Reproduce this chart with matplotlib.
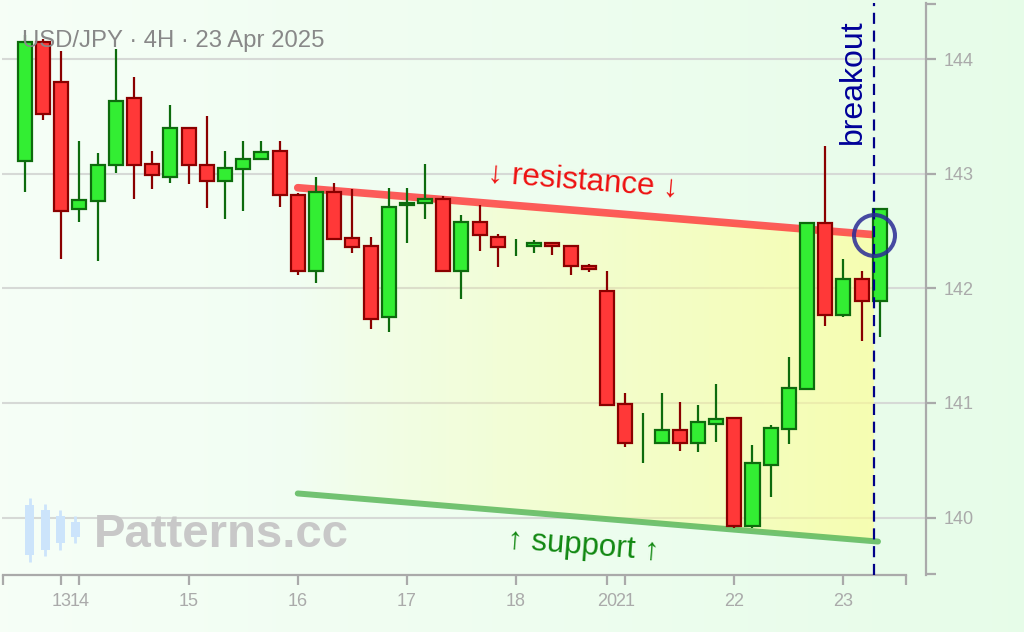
import matplotlib
matplotlib.use('Agg')
import matplotlib.pyplot as plt
import numpy as np
from matplotlib.patches import Polygon, Rectangle

plt.rcParams['font.family'] = ['Liberation Sans', 'DejaVu Sans']

# 4H candles, USD/JPY
opens = [143.11, 144.15, 143.80, 142.69, 142.76, 143.08, 143.66, 143.09, 142.97, 143.40,
         143.08, 142.94, 143.04, 143.13, 143.20, 142.82, 142.15, 142.84, 142.44, 142.37,
         141.75, 142.73, 142.75, 142.78, 142.15, 142.58, 142.45, 142.35, 142.37, 142.40,
         142.37, 142.20, 141.98, 140.99, 140.70, 140.65, 140.76, 140.65, 140.82, 140.87,
         139.93, 140.46, 140.77, 141.12, 142.57, 141.77, 142.08, 141.89]
highs = [144.21, 144.18, 144.07, 143.29, 143.18, 144.09, 143.85, 143.20, 143.60, 143.40,
         143.51, 143.20, 143.29, 143.29, 143.29, 142.83, 142.97, 142.92, 142.87, 142.45,
         142.88, 142.88, 143.09, 142.81, 142.64, 142.73, 142.48, 142.43, 142.42, 142.41,
         142.37, 142.21, 142.15, 141.09, 140.91, 141.09, 141.01, 140.98, 141.17, 140.88,
         140.63, 140.81, 141.40, 142.57, 143.24, 142.26, 142.15, 142.70]
lows = [142.84, 143.47, 142.26, 142.58, 142.24, 143.01, 142.78, 142.87, 142.92, 142.91,
        142.70, 142.61, 142.68, 143.12, 142.71, 142.12, 142.05, 142.42, 142.31, 141.65,
        141.62, 142.40, 142.61, 142.15, 141.91, 142.33, 142.19, 142.28, 142.31, 142.29,
        142.12, 142.14, 140.98, 140.62, 140.48, 140.65, 140.58, 140.57, 140.66, 139.91,
        139.91, 140.18, 140.64, 141.11, 141.67, 141.75, 141.54, 141.58]
closes = [144.15, 143.52, 142.68, 142.77, 143.08, 143.64, 143.08, 142.99, 143.40, 143.08,
          142.94, 143.05, 143.13, 143.19, 142.82, 142.15, 142.84, 142.43, 142.36, 141.73,
          142.71, 142.75, 142.78, 142.15, 142.58, 142.47, 142.36, 142.35, 142.40, 142.37,
          142.20, 142.17, 140.98, 140.65, 140.70, 140.76, 140.65, 140.83, 140.86, 139.93,
          140.48, 140.78, 141.13, 142.57, 141.77, 142.08, 141.89, 142.69]

day_pos = [2, 3, 9, 15, 21, 27, 32, 33, 39, 45]
day_labels = ['13', '14', '15', '16', '17', '18', '20', '21', '22', '23']
price_ticks = [140, 141, 142, 143, 144]

res_x = [15, 46.67]
res_y = [142.88, 142.47]
sup_x = [15, 46.9]
sup_y = [140.21, 139.79]
breakout_x = 46.67
breakout_y = 142.47

W, H = 1024, 632
fig = plt.figure(figsize=(W / 100, H / 100), dpi=100)

# background gradient
bg = fig.add_axes([0, 0, 1, 1], zorder=0)
c1 = np.array([0.965, 0.998, 0.968])
c2 = np.array([0.905, 0.990, 0.912])
t = np.linspace(0, 1, 256)[None, :, None]
bg.imshow(c1 + (c2 - c1) * t, aspect='auto', extent=(0, 1, 0, 1))
bg.set_xlim(0, 1)
bg.set_ylim(0, 1)
bg.axis('off')

gx0, gx1 = 2, 926
gy0, gy1 = 3, 575
ax = fig.add_axes([gx0 / W, 1 - gy1 / H, (gx1 - gx0) / W, (gy1 - gy0) / H], zorder=1)
ax.set_facecolor('none')
dx, x0 = 18.19, 24.9
xlim = ((gx0 - x0) / dx, (gx1 - x0) / dx)
ylim = (139.498, 144.493)

for p in price_ticks:
    ax.axhline(p, color='#d6d9d6', lw=1.5, zorder=0)

# trend zone fill with horizontal gradient
n = 200
xs = np.linspace(res_x[0], res_x[1], n)
top = np.interp(xs, res_x, res_y)
bot = np.interp(xs, sup_x, sup_y)
poly = Polygon(np.column_stack([np.r_[xs, xs[::-1]], np.r_[top, bot[::-1]]]),
               closed=True, facecolor='none', edgecolor='none')
ax.add_patch(poly)
grad = np.zeros((2, 256, 4))
grad[..., 0] = 1.0
grad[..., 1] = 1.0
grad[..., 2] = 0.55
grad[..., 3] = np.linspace(0.0, 0.55, 256) ** 0.85
im = ax.imshow(grad, aspect='auto', extent=(res_x[0], res_x[1], min(sup_y), max(res_y)),
               interpolation='bilinear', zorder=0.5)
im.set_clip_path(poly)
ax.set_xlim(*xlim)
ax.set_ylim(*ylim)

ax.plot(res_x, res_y, color='#ff4040', alpha=0.85, lw=5.5, solid_capstyle='round', zorder=1)
ax.plot(sup_x, sup_y, color='#5cb85c', alpha=0.85, lw=4.3, solid_capstyle='round', zorder=1)

# candles
idx = np.arange(len(opens))
o = np.array(opens)
c = np.array(closes)
up = c >= o
body_w = 0.77
for i in idx:
    fill = '#33ee33' if up[i] else '#ff3838'
    edge = '#0d6b0d' if up[i] else '#8a0000'
    ax.vlines(i, lows[i], highs[i], color=edge, lw=1.6, zorder=2)
    if o[i] != c[i]:
        ax.bar(i, abs(c[i] - o[i]), bottom=min(o[i], c[i]), width=body_w,
               color=fill, edgecolor=edge, linewidth=1.6, zorder=3)

# breakout marker
ax.axvline(breakout_x, color='#000088', lw=1.6, ls=(0, (5, 3)), zorder=4)
ax.plot(breakout_x, breakout_y, 'o', ms=29.5, mfc='none', mec='#2a2a95', mew=2.9,
        alpha=0.85, zorder=5)

ax.text(30.7, 142.93, '↓ resistance ↓', color='#ee1111', fontsize=22.5,
        rotation=-4.5, ha='center', va='center', zorder=6)
ax.text(30.7, 139.75, '↑ support ↑', color='#118811', fontsize=22.5,
        rotation=-4.5, ha='center', va='center', zorder=6)
ax.text(45.54, 143.81, 'breakout', color='#000099', fontsize=23,
        rotation=90, ha='center', va='center', zorder=6)

# axes styling
for s in ['left', 'top']:
    ax.spines[s].set_visible(False)
xl, xr = -1.2, 48.44
ax.spines['bottom'].set_bounds(xl, xr)
for s in ['bottom', 'right']:
    ax.spines[s].set_color('#aaaaaa')
    ax.spines[s].set_linewidth(1.6)
ax.set_xticks(day_pos + [xl, xr])
ax.set_xticklabels(day_labels + ['', ''])
ax.yaxis.tick_right()
ax.set_yticks(price_ticks + [139.51, 144.48])
ax.set_yticklabels([str(p) for p in price_ticks] + ['', ''])
ax.tick_params(axis='both', colors='#aaaaaa', length=7.2, width=1.6,
               labelsize=13, labelcolor='#aaaaaa', pad=5.5)

# title and watermark
fig.text(22 / W, 1 - 41 / H, 'USD/JPY · 4H · 23 Apr 2025', color='#888888',
         fontsize=17.2, ha='left', va='center', zorder=7)

ov = fig.add_axes([0, 0, 1, 1], zorder=2)
ov.set_xlim(0, W)
ov.set_ylim(H, 0)
ov.axis('off')
icon_x = [29.5, 45, 60, 75]
icon_body = [(505, 555), (510, 550), (516, 543), (522, 537)]
icon_wick = [(498, 562), (504, 556), (510, 550), (516, 543)]
for xc, (b0, b1), (w0, w1) in zip(icon_x, icon_body, icon_wick):
    ov.plot([xc, xc], [w0, w1], color='#cce4fb', lw=2, solid_capstyle='butt')
    ov.add_patch(Rectangle((xc - 4.5, b0), 9, b1 - b0, facecolor='#cce4fb',
                           edgecolor='none'))
ov.text(94, 535, 'Patterns.cc', color='#c8c8c8', fontsize=34, fontweight='bold',
        ha='left', va='center')

fig.patch.set_edgecolor('#cfcfcf')
fig.patch.set_linewidth(1.5)
fig.savefig('out.png', dpi=100, facecolor=fig.get_facecolor(), edgecolor=fig.get_edgecolor())
